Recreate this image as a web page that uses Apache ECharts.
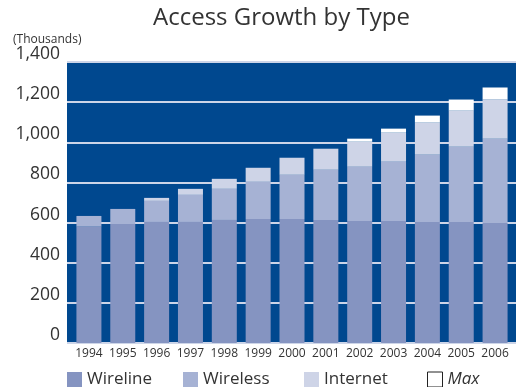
<!DOCTYPE html>
<html>
<head>
<meta charset="utf-8">
<script src="https://cdn.jsdelivr.net/npm/echarts@6/dist/echarts.min.js"></script>
<style>
  html, body { margin: 0; padding: 0; background: #fff; }
  #chart { width: 516px; height: 387px; }
</style>
</head>
<body>
<div id="chart"></div>
<script>
// data (thousands)
const years = ["1994", "1995", "1996", "1997", "1998", "1999", "2000", "2001", "2002", "2003", "2004", "2005", "2006"];
const wireline = [580, 593, 603, 603, 613, 618, 618, 613, 608, 608, 603, 603, 598];
const wireless = [53, 75, 105, 135, 155, 185, 220, 250, 270, 295, 335, 375, 420];
const internet = [0, 0, 15, 30, 50, 70, 85, 105, 125, 145, 160, 180, 195];
const maxExtra = [0, 0, 0, 0, 0, 0, 0, 0, 15, 20, 35, 55, 60];

const seriesNames = ["Wireline", "Wireless", "Internet", "Max"];
const seriesData = [wireline, wireless, internet, maxExtra];
const colors = ["#8594c1", "#a6b2d4", "#ced4e7", "#ffffff"];
const legendLeft = [67, 183, 304, 427];

const fontFam = "'Open Sans', sans-serif";
const textColor = "#333333";

let chart = echarts.init(document.getElementById("chart"));

let series = [];
for (let i = 0; i < seriesNames.length; i++) {
  series.push({
    name: seriesNames[i],
    type: "bar",
    stack: "total",
    xAxisIndex: 1,
    yAxisIndex: 1,
    barWidth: 25,
    itemStyle: { color: colors[i] },
    data: seriesData[i]
  });
}

let legends = [];
for (let i = 0; i < seriesNames.length; i++) {
  let item = { name: seriesNames[i] };
  if (seriesNames[i] === "Max") {
    item.itemStyle = { color: "#ffffff", borderColor: "#222222", borderWidth: 1 };
    item.textStyle = { fontStyle: "italic" };
  }
  legends.push({
    data: [item],
    left: legendLeft[i],
    top: 371,
    icon: "rect",
    itemWidth: 15,
    itemHeight: 15,
    itemGap: 6,
    padding: 0,
    textStyle: { fontSize: 17, color: textColor, fontFamily: fontFam, padding: [0, 0, 0, 0] }
  });
}

let option = {
  animation: false,
  title: [
    {
      text: "Access Growth by Type",
      left: 153,
      top: 6,
      padding: 0,
      textStyle: { fontSize: 24, fontWeight: "normal", color: textColor, fontFamily: fontFam }
    },
    {
      text: "(Thousands)",
      left: 13,
      top: 34,
      padding: 0,
      textStyle: { fontSize: 12, fontWeight: "normal", color: textColor, fontFamily: fontFam }
    }
  ],
  legend: legends,
  grid: [
    {
      left: 67,
      right: 0,
      top: 62,
      bottom: 44,
      show: true,
      backgroundColor: "#00488f",
      borderWidth: 0
    },
    {
      left: 72,
      right: 4,
      top: 62,
      bottom: 44
    }
  ],
  xAxis: [
    { type: "value", gridIndex: 0, show: false, min: 0, max: 1 },
    {
      type: "category",
      gridIndex: 1,
      data: years,
      axisLine: { show: false },
      axisTick: { show: false },
      axisLabel: { interval: 0, margin: 5, fontSize: 12, color: textColor, fontFamily: fontFam }
    }
  ],
  yAxis: [
    {
      type: "value",
      gridIndex: 0,
      min: 0,
      max: 1400,
      interval: 200,
      axisLine: { show: false },
      axisTick: { show: false },
      splitLine: { show: true, lineStyle: { color: "#cdd5e8", width: 2 } },
      axisLabel: {
        margin: 7,
        fontSize: 17.5,
        color: textColor,
        fontFamily: fontFam,
        verticalAlign: "bottom",
        lineHeight: 16,
        formatter: function (v) { return v.toLocaleString("en-US"); }
      }
    },
    { type: "value", gridIndex: 1, min: 0, max: 1400, interval: 200, show: false }
  ],
  series: series
};

chart.setOption(option);
</script>
</body>
</html>
